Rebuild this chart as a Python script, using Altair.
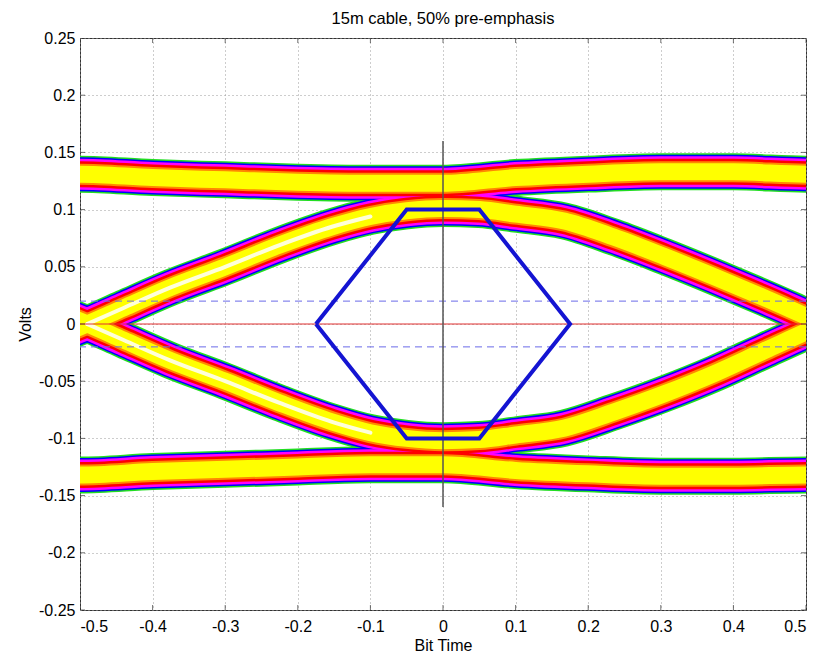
import altair as alt
import pandas as pd

FONT = "Liberation Sans"

# ---------------- data ----------------
x_ticks = [-0.5, -0.4, -0.3, -0.2, -0.1, 0.0, 0.1, 0.2, 0.3, 0.4, 0.5]
y_ticks = [-0.25, -0.2, -0.15, -0.1, -0.05, 0.0, 0.05, 0.1, 0.15, 0.2, 0.25]

# steady-level rails (centre of the density band)
rail_x = [-0.56, -0.5, -0.4, -0.3, -0.2, -0.1, 0.0, 0.1, 0.2, 0.3, 0.4, 0.5, 0.56]
top_rail_y = [0.131, 0.131, 0.128, 0.126, 0.124, 0.123, 0.123, 0.128, 0.131, 0.133, 0.133, 0.131, 0.131]
bottom_rail_y = [-0.132, -0.132, -0.129, -0.127, -0.125, -0.123, -0.123, -0.128, -0.131, -0.133, -0.133, -0.132, -0.132]

# transition arcs (centre of the density band)
arc_x = [-0.56, -0.49, -0.44, -0.375, -0.3, -0.225, -0.153, -0.1, -0.05, 0.0,
         0.05, 0.1, 0.167, 0.235, 0.305, 0.375, 0.444, 0.525, 0.58]
top_arc_y = [-0.018, 0.0, 0.014, 0.032, 0.050, 0.069, 0.085, 0.094, 0.099, 0.101,
             0.100, 0.096, 0.090, 0.076, 0.059, 0.041, 0.0225, 0.0, -0.014]
bottom_arc_y = [0.018, 0.0, -0.014, -0.032, -0.050, -0.069, -0.0855, -0.095, -0.100, -0.102,
                -0.101, -0.097, -0.091, -0.077, -0.061, -0.043, -0.023, 0.0, 0.014]

# eye mask (hexagon)
mask_x = [-0.175, -0.05, 0.05, 0.175, 0.05, -0.05, -0.175]
mask_y = [0.0, 0.1, 0.1, 0.0, -0.1, -0.1, 0.0]

zero_level = [0.0]
threshold_levels = [-0.02, 0.02]
center_x = [0.0]
center_lo = [-0.16]
center_hi = [0.16]

# band styling (outer -> inner)
band_colors = ["#22dd22", "#0000ff", "#ff00ff", "#ff0000", "#ff8800", "#ffff00"]
band_widths = [37, 34, 31, 26, 21, 17]

# ---------------- tables ----------------
rows = []
for name, xs, ys in [("top rail", rail_x, top_rail_y),
                     ("bottom rail", rail_x, bottom_rail_y),
                     ("top arc", arc_x, top_arc_y),
                     ("bottom arc", arc_x, bottom_arc_y)]:
    for i, (a, b) in enumerate(zip(xs, ys)):
        rows.append({"trace": name, "x": a, "y": b, "i": i})
traces = pd.DataFrame(rows)

mask = pd.DataFrame({"x": mask_x, "y": mask_y, "i": list(range(len(mask_x)))})
zero_df = pd.DataFrame({"y": zero_level})
thr_df = pd.DataFrame({"y": threshold_levels})
center_df = pd.DataFrame({"x": center_x, "y": center_lo, "y2": center_hi})
xt_df = pd.DataFrame({"x": x_ticks})
yt_df = pd.DataFrame({"y": y_ticks})

LABEL_EXPR = "replace(format(datum.value, '.2~f'), '\u2212', '-')"

xscale = alt.Scale(domain=[-0.5, 0.5], nice=False, zero=False)
yscale = alt.Scale(domain=[-0.25, 0.25], nice=False, zero=False)
xaxis = alt.Axis(values=x_ticks, title="Bit Time", labelExpr=LABEL_EXPR,
                 labelPadding=8, titleY=40, titleBaseline="alphabetic")
yaxis = alt.Axis(values=y_ticks, title="Volts", labelExpr=LABEL_EXPR,
                 labelPadding=5, titleX=-55, titleY=286, titleBaseline="middle",
                 titleAlign="center", titleAngle=-90)

X = alt.X("x:Q", scale=xscale, axis=xaxis)
Y = alt.Y("y:Q", scale=yscale, axis=yaxis)

layers = []
for c, w in zip(band_colors, band_widths):
    layers.append(
        alt.Chart(traces).mark_line(color=c, strokeWidth=w, interpolate="monotone",
                                    clip=True, strokeCap="butt", strokeJoin="round")
        .encode(x=X, y=Y, detail="trace:N", order="i:Q")
    )
# white core on the left-hand transitions
layers.append(
    alt.Chart(traces).transform_filter(
        "(datum.trace == 'top arc' || datum.trace == 'bottom arc') && datum.x <= -0.1 && datum.x >= -0.5"
    ).mark_line(color="#ffffff", strokeWidth=4, opacity=0.85, interpolate="monotone",
                clip=True, strokeCap="round")
    .encode(x=X, y=Y, detail="trace:N", order="i:Q")
)

zero_line = alt.Chart(zero_df).mark_rule(color="#e03030", strokeWidth=1).encode(y=Y)
thr_lines = alt.Chart(thr_df).mark_rule(color="#6a6ae8", strokeWidth=1, strokeDash=[7, 5]).encode(y=Y)
center_line = alt.Chart(center_df).mark_rule(color="#555555", strokeWidth=1.5).encode(
    x=X, y=Y, y2="y2:Q")
mask_line = alt.Chart(mask).mark_line(color="#1414d2", strokeWidth=4, clip=True,
                                      strokeJoin="miter").encode(x=X, y=Y, order="i:Q")

tick_top = alt.Chart(xt_df).mark_tick(orient="vertical", size=10, thickness=1, color="#333",
                                      clip=True).encode(x=X, y=alt.value(0))
tick_bot = alt.Chart(xt_df).mark_tick(orient="vertical", size=10, thickness=1, color="#333",
                                      clip=True).encode(x=X, y=alt.value(572))
tick_left = alt.Chart(yt_df).mark_tick(orient="horizontal", size=10, thickness=1, color="#333",
                                       clip=True).encode(y=Y, x=alt.value(0))
tick_right = alt.Chart(yt_df).mark_tick(orient="horizontal", size=10, thickness=1, color="#333",
                                        clip=True).encode(y=Y, x=alt.value(726))

chart = alt.layer(
    *layers, zero_line, thr_lines, center_line, mask_line,
    tick_top, tick_bot, tick_left, tick_right
).properties(
    width=726, height=572,
    padding={"left": 80, "top": 38, "right": 18, "bottom": 46},
    autosize=alt.AutoSizeParams(type="none"),
    background="white",
    title=alt.TitleParams("15m cable, 50% pre-emphasis", font=FONT, fontSize=16.5,
                          fontWeight="normal", color="#000", anchor="middle",
                          baseline="alphabetic", offset=-10),
).configure_view(
    stroke="#333", strokeWidth=1
).configure_axis(
    domain=False, ticks=False, tickSize=0, grid=True, gridDash=[1, 3],
    gridColor="#9a9a9a", gridWidth=1,
    labelFont=FONT, labelFontSize=16, labelColor="#000",
    titleFont=FONT, titleFontSize=16, titleFontWeight="normal", titleColor="#000"
)

chart.save("out.html", embed_options={"renderer": "svg", "actions": False})
